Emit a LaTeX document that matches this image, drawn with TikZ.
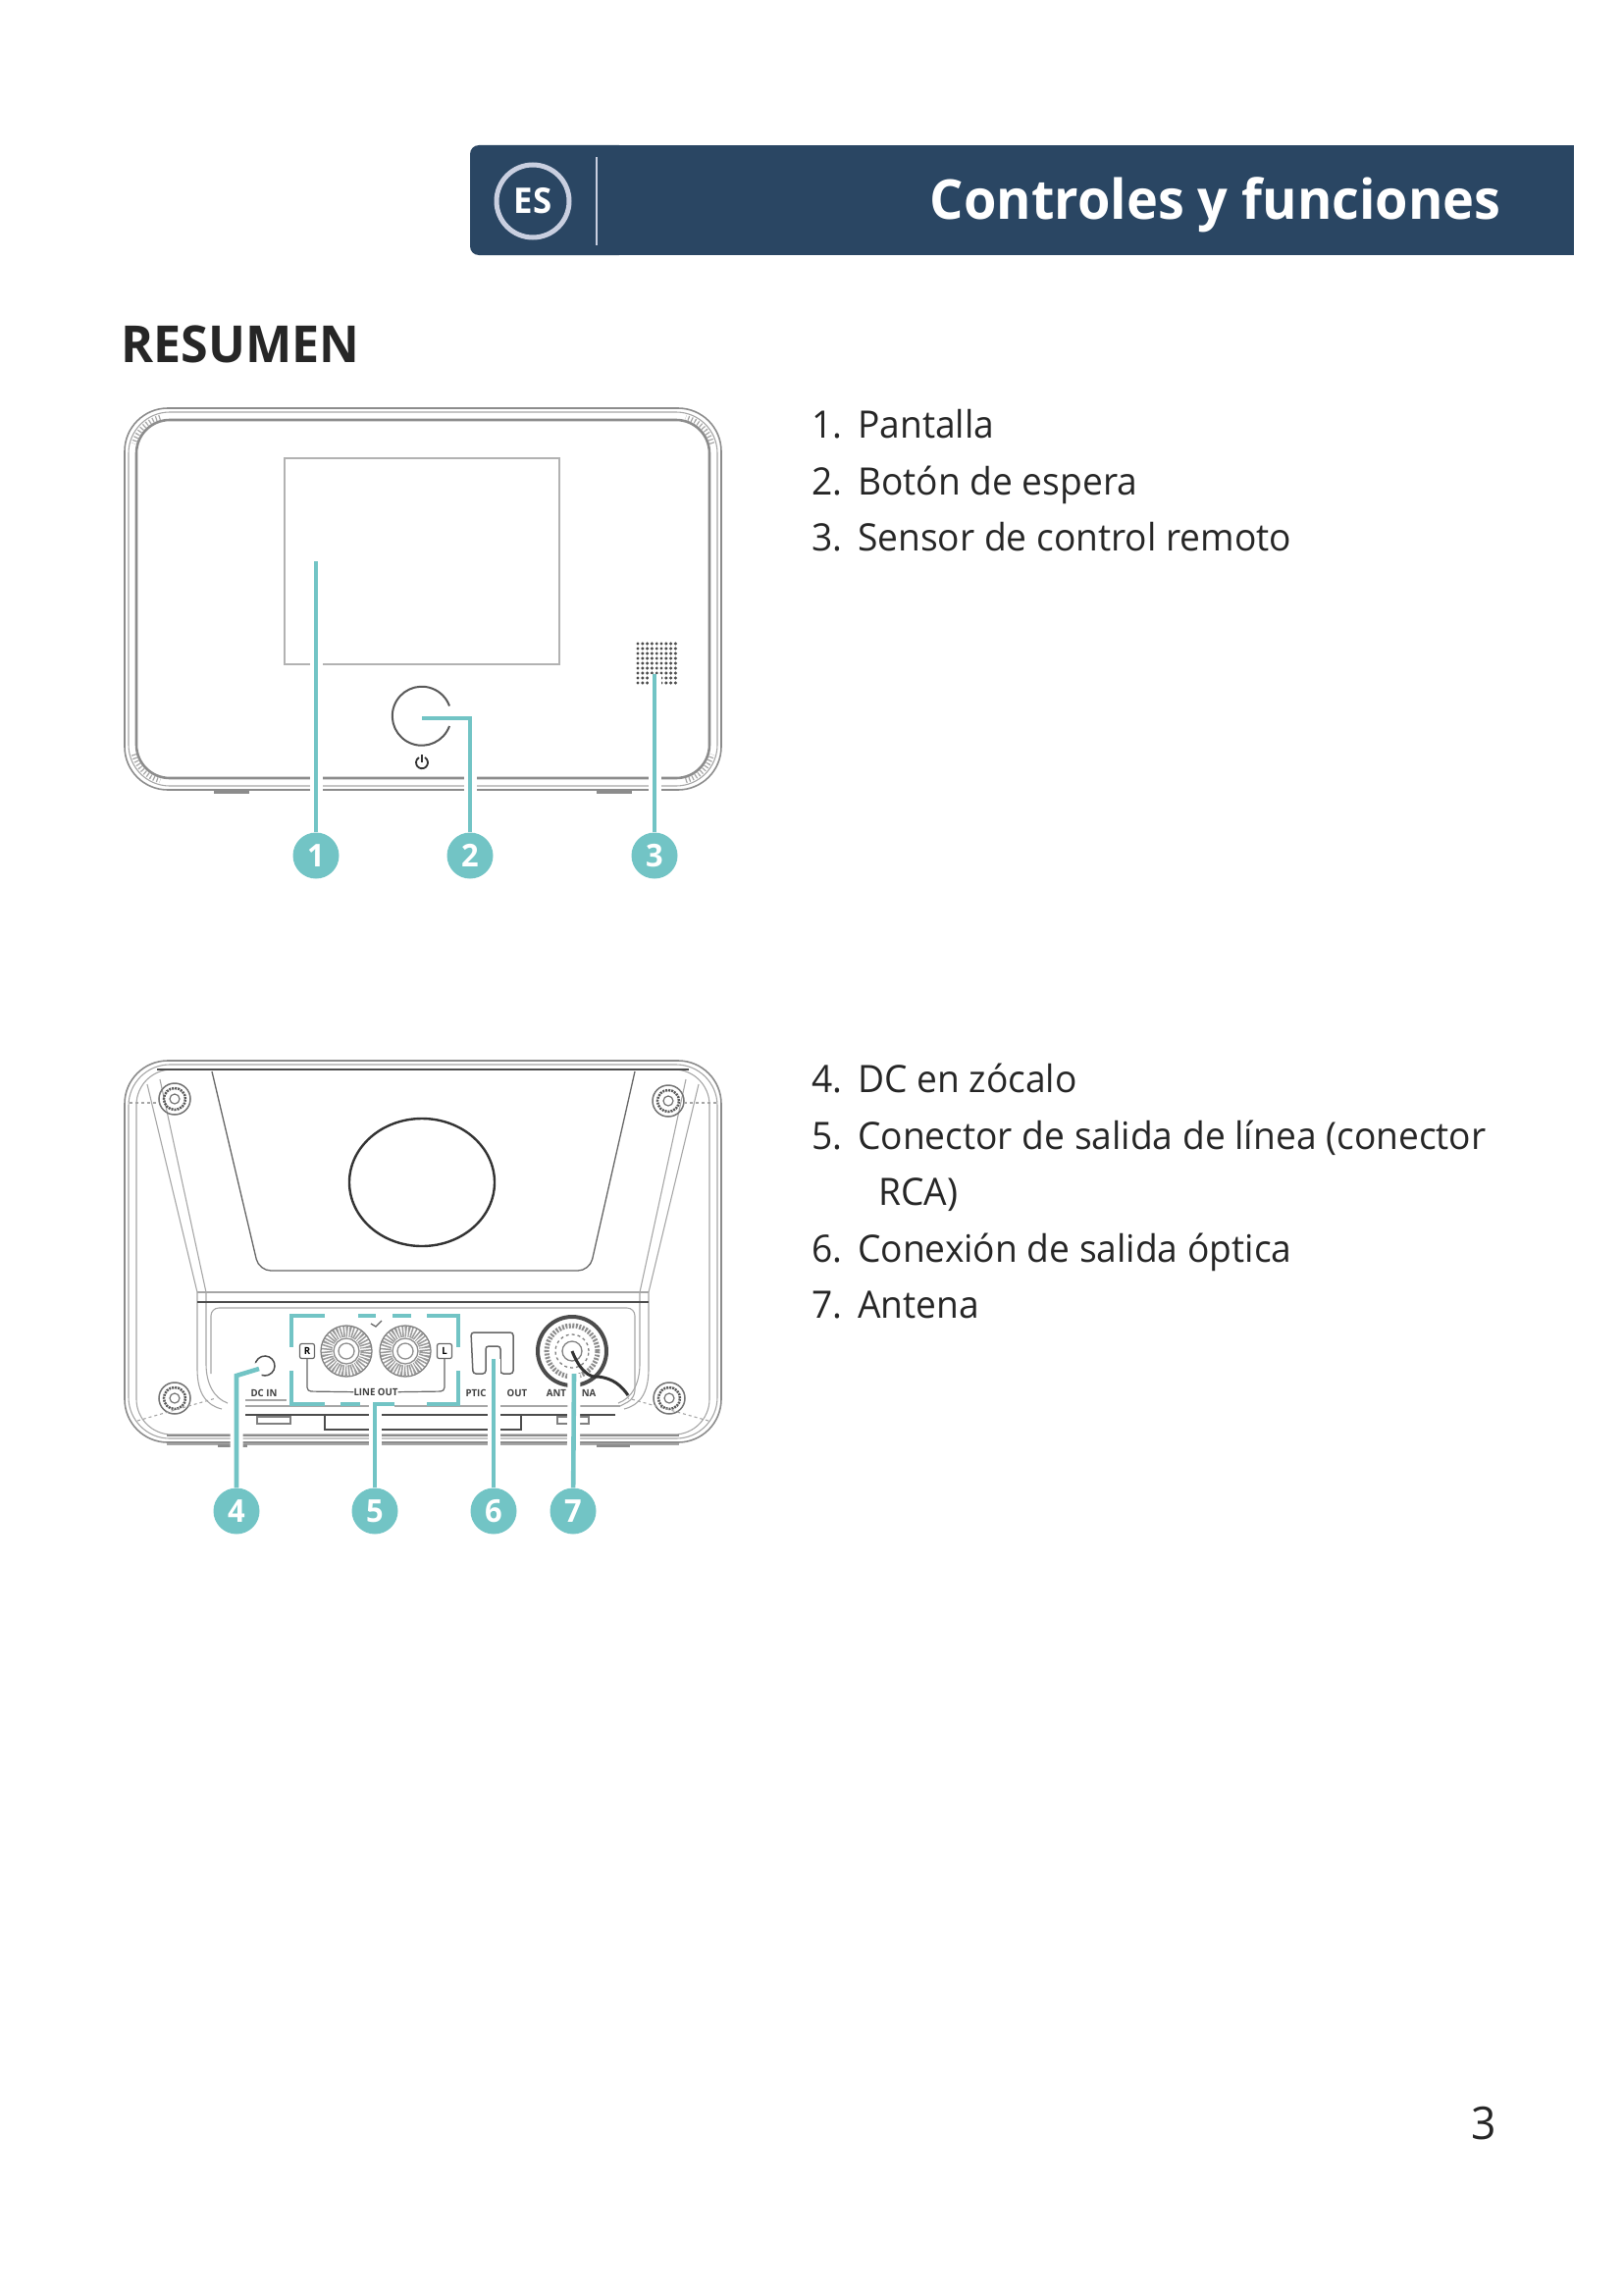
\documentclass[tikz,border=0pt]{standalone}
\usepackage{fontspec}
\setmainfont[FakeStretch=0.965]{Open Sans}
\usepackage{xcolor}
\usetikzlibrary{positioning}
\definecolor{bannerblue}{HTML}{2A4663}
\definecolor{ringgrey}{HTML}{C9CFE0}
\definecolor{pinteal}{HTML}{72C4C5}
\definecolor{bodygrey}{HTML}{8C8C8C}
\definecolor{textdark}{HTML}{262626}
\tikzset{
    devline/.style={draw=bodygrey, line width=1.6pt},
    devthick/.style={draw=black!45, line width=2.6pt},
    devthin/.style={draw=black!35, line width=1.1pt},
    devdark/.style={draw=black!70, line width=1.8pt},
    leader/.style={preaction={draw=white, line width=13pt}, draw=pinteal, line width=4.6pt},
    boxdash/.style={draw=pinteal, line width=4pt},
    badge/.style={circle, fill=pinteal, minimum size=47pt, inner sep=0pt, text=white, font=\fontsize{32}{32}\selectfont\bfseries},
    listitem/.style={anchor=base west, inner sep=0pt, text=textdark, font=\fontsize{38.5}{46}\selectfont},
    tinylabel/.style={inner sep=0pt, text=black!75, font=\fontsize{10}{10}\selectfont\bfseries},
    portbox/.style={draw=black!60, line width=1.2pt, rounded corners=2pt, minimum size=15pt, inner sep=0pt, font=\fontsize{10}{10}\selectfont\bfseries},
}
\begin{document}
\begin{tikzpicture}[x=1pt, y=-1pt]
    \useasboundingbox (0,0) rectangle (1654,2339);
    % banner
    \fill[bannerblue, rounded corners=9pt] (479,148) rectangle (640,260);
    \fill[bannerblue] (520,148) rectangle (1604,260);
    \node[circle, draw=ringgrey, line width=5pt, minimum size=74pt, inner sep=0pt, text=white, font=\fontsize{36}{36}\selectfont\bfseries] (lang) at (543,205) {ES};
    \coordinate (sepa) at (608,160);
    \coordinate (sepb) at (608,250);
    \draw[ringgrey, line width=2pt] (sepa) -- (sepb);
    \node[anchor=base east, inner sep=0pt, text=white, font=\fontsize{56}{60}\selectfont\bfseries] (title) at (1530,223) {Controles y funciones};
    \node[anchor=base west, inner sep=0pt, text=textdark, font=\fontsize{52}{60}\selectfont\bfseries] (resumen) at (123,369) {RESUMEN};

    % front view
    \draw[devline, rounded corners=44pt] (127,416) rectangle (735,805);
    \draw[devthin, rounded corners=42pt] (131,420) rectangle (731,801);
    \draw[devthick, rounded corners=34pt] (139,428) rectangle (723,793);
    \foreach \cx/\cy/\ca in {173/462/90, 689/462/0, 689/759/-90, 173/759/180}
        \draw[black!35, line width=5pt, dash pattern=on 1.2pt off 2.4pt] (\cx,\cy) ++(\ca+15:38pt) arc[start angle=\ca+15, end angle=\ca+75, radius=38pt];
    \draw[black!30, line width=1.3pt] (290,467) rectangle (570,677);
    \draw[black!45, line width=3pt] (218,807) -- (254,807);
    \draw[black!45, line width=3pt] (608,807) -- (644,807);
    \draw[black!65, line width=2pt] (458,740) arc[start angle=-20, end angle=-340, radius=30pt];
    \draw[black!80, line width=1.8pt] (433,772) arc[start angle=60, end angle=-240, radius=6pt];
    \draw[black!80, line width=1.8pt] (430,769) -- (430,777);
    \foreach \col in {0,...,8}
        \foreach \row in {0,...,8}
            \fill[black!70] (650+4.8*\col,656+5*\row) circle (1.7pt);

    \coordinate (pin1) at (322,572);
    \coordinate (pin2) at (430,732);
    \coordinate (bend2) at (479,732);
    \coordinate (pin3) at (667,687);
    \node[badge] (num1) at (322,872) {1};
    \node[badge] (num2) at (479,872) {2};
    \node[badge] (num3) at (667,872) {3};
    \draw[leader] (pin1) -- (num1);
    \draw[leader] (pin2) -- (bend2) -- (num2);
    \draw[leader] (pin3) -- (num3);

    % rear view
    \draw[devline, rounded corners=44pt] (127,1081) rectangle (735,1470);
    \draw[devthin, rounded corners=42pt] (131,1085) rectangle (731,1466);
    \draw[devthin, rounded corners=36pt] (139,1090) rectangle (723,1462);
    \draw[devdark] (160,1090) -- (702,1090);
    \draw[black!60, line width=1.3pt, rounded corners=12pt] (216,1092) -- (264,1295) -- (601,1295) -- (647,1092);
    \draw[black!80, line width=2.4pt] (430,1205) ellipse (74pt and 65pt);
    % side struts
    \draw[devthin] (150,1105) -- (201,1317) -- (201,1395) .. controls (201,1420) and (210,1432) .. (226,1436);
    \draw[devthin] (163,1100) -- (210,1317) -- (210,1390) .. controls (210,1410) and (218,1425) .. (232,1430);
    \draw[devthin] (712,1105) -- (661,1317) -- (661,1395) .. controls (661,1420) and (652,1432) .. (636,1436);
    \draw[devthin] (699,1100) -- (652,1317) -- (652,1390) .. controls (652,1410) and (644,1425) .. (630,1430);
    \draw[devthin] (201,1317) -- (661,1317);
    \draw[devdark] (201,1327) -- (661,1327);
    \draw[devthin, rounded corners=8pt] (215,1400) -- (215,1333) -- (647,1333) -- (647,1425) -- (632,1433);
    \draw[devthin] (250,1433) -- (632,1433);
    \draw[devdark] (250,1442) -- (627,1442);
    \draw[devdark] (331,1442) -- (331,1457) -- (531,1457) -- (531,1442);
    \draw[devthick] (170,1463) -- (692,1463);
    \draw[devthin] (170,1472) -- (692,1472);
    \draw[black!50, line width=1.5pt] (262,1444) rectangle (296,1451);
    \draw[black!50, line width=1.5pt] (568,1444) rectangle (600,1451);
    \draw[black!45, line width=3pt] (222,1473) -- (252,1473);
    \draw[black!45, line width=3pt] (608,1473) -- (642,1473);
    \foreach \sx/\sy in {178/1120, 681/1122, 178/1425, 682/1425} {
        \draw[black!55, line width=1.5pt] (\sx,\sy) circle (16pt);
        \draw[black!65, line width=2.5pt, dash pattern=on 2pt off 1pt] (\sx,\sy) circle (11pt);
        \draw[black!55, line width=1.2pt] (\sx,\sy) circle (5pt);
    }
    \draw[devthin, dashed] (132,1124) -- (160,1124);
    \draw[devthin, dashed] (730,1124) -- (698,1124);
    \draw[devthin, dashed] (140,1448) -- (220,1425);
    \draw[devthin, dashed] (722,1448) -- (640,1425);

    % sockets
    \foreach \jx in {353,413} {
        \draw[black!40, line width=11pt, dash pattern=on 1.5pt off 1.5pt] (\jx,1377) circle (20pt);
        \draw[black!50, line width=1.3pt] (\jx,1377) circle (26pt);
        \draw[black!45, line width=1.3pt] (\jx,1377) circle (13pt);
        \draw[black!45, line width=1.3pt] (\jx,1377) circle (8pt);
    }
    \node[portbox] (chanr) at (313,1377) {R};
    \node[portbox] (chanl) at (453,1377) {L};
    \node[tinylabel] (lineout) at (383,1419) {LINE OUT};
    \draw[black!60, line width=1.2pt, rounded corners=4pt] (chanr) -- (313,1418) -- (lineout);
    \draw[black!60, line width=1.2pt, rounded corners=4pt] (chanl) -- (453,1418) -- (lineout);
    \draw[black!60, line width=1.3pt] (378,1349) -- (383,1352) -- (389,1346);
    \draw[black!70, line width=1.5pt] (260.6,1395.4) arc[start angle=200, end angle=-110, radius=10pt];
    \node[tinylabel] (dcin) at (269,1420) {DC IN};
    \draw[devthin] (250,1427) -- (292,1427);
    \draw[black!60, line width=1.5pt, rounded corners=3pt] (482,1400) -- (480,1358) -- (523,1358) -- (523,1400) -- (510,1400) -- (510,1372) -- (495,1372) -- (495,1400) -- cycle;
    \node[tinylabel] (optic) at (485,1420) {PTIC};
    \node[tinylabel] (optout) at (527,1420) {OUT};
    \node[tinylabel] (ant) at (567,1420) {ANT};
    \node[tinylabel] (enna) at (600,1420) {NA};
    \draw[black!70, line width=4pt] (583,1377) circle (35pt);
    \draw[black!45, line width=5pt, dash pattern=on 2pt off 1.5pt] (583,1377) circle (26pt);
    \draw[black!50, line width=1.3pt, dashed] (583,1377) circle (17pt);
    \draw[black!50, line width=1.3pt] (583,1377) circle (10pt);
    \draw[black!80, line width=3pt] (583,1377) .. controls (590,1395) and (600,1405) .. (610,1403) .. controls (625,1405) and (633,1412) .. (640,1422);

    % teal frame round the line out sockets
    \draw[boxdash] (331,1341) -- (297,1341) -- (297,1373);
    \draw[boxdash] (365,1341) -- (383,1341);
    \draw[boxdash] (400,1341) -- (419,1341);
    \draw[boxdash] (435,1341) -- (467,1341) -- (467,1373);
    \draw[boxdash] (297,1397) -- (297,1431) -- (331,1431);
    \draw[boxdash] (347,1431) -- (367,1431);
    \draw[boxdash] (435,1431) -- (467,1431) -- (467,1397);

    \coordinate (pin4) at (264,1395);
    \coordinate (bend4) at (241,1402);
    \coordinate (pin5) at (402,1431);
    \coordinate (bend5) at (382,1431);
    \coordinate (pin6) at (503,1385);
    \coordinate (pin7) at (585,1400);
    \node[badge] (num4) at (241,1540) {4};
    \node[badge] (num5) at (382,1540) {5};
    \node[badge] (num6) at (503,1540) {6};
    \node[badge] (num7) at (584,1540) {7};
    \draw[leader] (pin4) -- (bend4) -- (num4);
    \draw[leader] (pin5) -- (bend5) -- (num5);
    \draw[leader] (pin6) -- (num6);
    \draw[leader] (pin7) -- (num7);

    % parts list
    \foreach \name/\y/\no/\txt in {
        a/446/1./Pantalla, b/504/2./Botón de espera, c/561/3./Sensor de control remoto,
        d/1113/4./DC en zócalo, e/1171/5./Conector de salida de línea (conector,
        f/1286/6./Conexión de salida óptica, g/1343/7./Antena} {
        \node[listitem] (no\name) at (827,\y) {\no};
        \node[listitem] (item\name) at (874,\y) {\txt};
    }
    \node[listitem] (itemrca) at (895,1228) {RCA)};
    \node[anchor=base, inner sep=0pt, text=textdark, font=\fontsize{46}{50}\selectfont] (pageno) at (1512,2180) {3};
\end{tikzpicture}
\end{document}
